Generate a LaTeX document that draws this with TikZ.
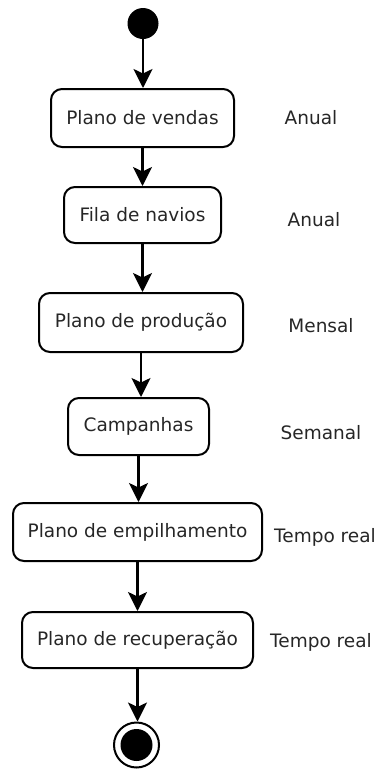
\documentclass[tikz,border=0pt]{standalone}
\usepackage{fontspec}
\setmainfont{DejaVu Sans}
\usetikzlibrary{arrows.meta}
\begin{document}
\begin{tikzpicture}[x=1pt,y=-1pt,
  act/.style={draw, line width=2pt, rounded corners=11pt, inner sep=0pt, text=black!85, font=\fontsize{18.5}{22}\selectfont},
  lbl/.style={font=\fontsize{18.5}{22}\selectfont, text=black!85, inner sep=0pt},
  arr/.style={line width=2.2pt, -{Stealth[length=19pt,width=19pt,inset=4.5pt]}}]
\useasboundingbox (0,0) rectangle (378,769);
\node[circle, fill=black, minimum size=31pt, inner sep=0pt] (start) at (143,23.5) {};
\node[act, minimum width=183pt, minimum height=58pt] (b1) at (142.5,118) {Plano de vendas};
\node[act, minimum width=157pt, minimum height=56pt] (b2) at (142.5,215) {Fila de navios};
\node[act, minimum width=204pt, minimum height=59pt] (b3) at (141,322.5) {Plano de produção};
\node[act, minimum width=141pt, minimum height=57pt] (b4) at (138.5,426.5) {Campanhas};
\node[act, minimum width=249pt, minimum height=58pt] (b5) at (137.5,532) {Plano de empilhamento};
\node[act, minimum width=231pt, minimum height=56pt] (b6) at (137.5,640) {Plano de recuperação};
\node[circle, draw, line width=2pt, minimum size=45pt, inner sep=0pt] (end) at (136.5,745) {};
\node[circle, fill=black, minimum size=32pt, inner sep=0pt] (endin) at (end.center) {};
\node[lbl] (l1) at (311,118) {Anual};
\node[lbl] (l2) at (314,220) {Anual};
\node[lbl] (l3) at (321,326) {Mensal};
\node[lbl] (l4) at (321,433) {Semanal};
\node[lbl] (l5) at (325,537) {Tempo real};
\node[lbl] (l6) at (321,642) {Tempo real};
\draw[arr] (start.south) -- (start.south |- b1.north);
\draw[arr] (b1.south) -- (b1.south |- b2.north);
\draw[arr] (b2.south) -- (b2.south |- b3.north);
\draw[arr] (b3.south) -- (b3.south |- b4.north);
\draw[arr] (b4.south) -- (b4.south |- b5.north);
\draw[arr] (b5.south) -- (b5.south |- b6.north);
\draw[arr] (b6.south) -- (b6.south |- end.north);
\end{tikzpicture}
\end{document}
